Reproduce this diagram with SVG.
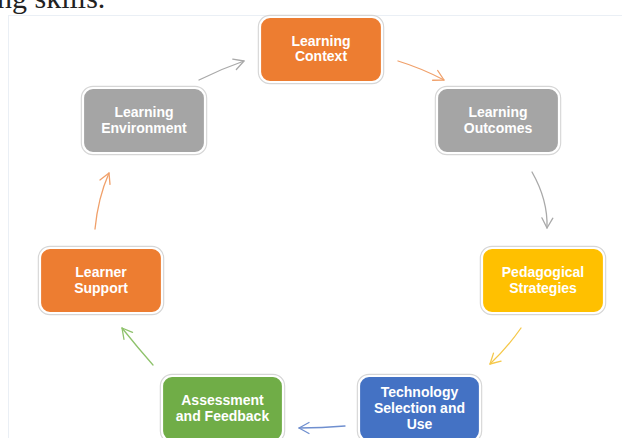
<svg xmlns="http://www.w3.org/2000/svg" width="622" height="438" viewBox="0 0 622 438">
<style>
.ring{fill:none;stroke:#d6d6d6;stroke-width:4.5}
.box{stroke:#ffffff;stroke-width:2.2}
.lbl{font-family:"Liberation Sans",Arial,sans-serif;font-weight:bold;font-size:14px;fill:#ffffff;text-anchor:middle}
.c{fill:none;stroke-width:1.3;stroke-linecap:round}
.head{fill:none;stroke-width:1.3;stroke-linecap:round;stroke-linejoin:round}
</style>
<defs>
<marker id="mGray" markerUnits="userSpaceOnUse" viewBox="-12 -7 14 14" refX="0" refY="0" markerWidth="14" markerHeight="14" orient="auto"><path class="head" d="M-10,-5.5 L0,0 L-10,5.5" stroke="#a9a9a9"/></marker>
<marker id="mOrange" markerUnits="userSpaceOnUse" viewBox="-12 -7 14 14" refX="0" refY="0" markerWidth="14" markerHeight="14" orient="auto"><path class="head" d="M-10,-5.5 L0,0 L-10,5.5" stroke="#f0a06a"/></marker>
<marker id="mYellow" markerUnits="userSpaceOnUse" viewBox="-12 -7 14 14" refX="0" refY="0" markerWidth="14" markerHeight="14" orient="auto"><path class="head" d="M-10,-5.5 L0,0 L-10,5.5" stroke="#f5c84a"/></marker>
<marker id="mBlue" markerUnits="userSpaceOnUse" viewBox="-12 -7 14 14" refX="0" refY="0" markerWidth="14" markerHeight="14" orient="auto"><path class="head" d="M-10,-5.5 L0,0 L-10,5.5" stroke="#6f8fcf"/></marker>
<marker id="mGreen" markerUnits="userSpaceOnUse" viewBox="-12 -7 14 14" refX="0" refY="0" markerWidth="14" markerHeight="14" orient="auto"><path class="head" d="M-10,-5.5 L0,0 L-10,5.5" stroke="#8ec26b"/></marker>
</defs>
<rect width="622" height="438" fill="#ffffff"/>
<text x="-3" y="8" font-family="'Liberation Serif','DejaVu Serif',serif" font-size="30" fill="#222222">ng skills.</text>
<rect x="8.5" y="15.5" width="620" height="430" fill="none" stroke="#eaeff5" stroke-width="1"/>

<g id="connectors">
<path class="c" d="M199,80 Q221,69 244,61" stroke="#a9a9a9" marker-end="url(#mGray)"/>
<path class="c" d="M398,61 Q421,68 444,80" stroke="#f0a06a" marker-end="url(#mOrange)"/>
<path class="c" d="M532,172 Q548,200 547,228" stroke="#a9a9a9" marker-end="url(#mGray)"/>
<path class="c" d="M521,328 Q507,348 490,364" stroke="#f5c84a" marker-end="url(#mYellow)"/>
<path class="c" d="M345,426 Q322,428 299,428" stroke="#6f8fcf" marker-end="url(#mBlue)"/>
<path class="c" d="M153,365 Q138,348 122,328" stroke="#8ec26b" marker-end="url(#mGreen)"/>
<path class="c" d="M95,229 Q98,198 109,173" stroke="#f0a06a" marker-end="url(#mOrange)"/>
</g>

<g id="learning-context">
<rect class="ring" x="260" y="17" width="122" height="65" rx="10"/>
<rect class="box" x="260" y="17" width="122" height="65" rx="10" fill="#ED7D31"/>
<text class="lbl" x="321" y="45.5">Learning</text>
<text class="lbl" x="321" y="61">Context</text>
</g>

<g id="learning-outcomes">
<rect class="ring" x="437" y="88" width="122" height="65" rx="10"/>
<rect class="box" x="437" y="88" width="122" height="65" rx="10" fill="#A5A5A5"/>
<text class="lbl" x="498" y="117">Learning</text>
<text class="lbl" x="498" y="132.5">Outcomes</text>
</g>

<g id="learning-environment">
<rect class="ring" x="83" y="88" width="122" height="65" rx="10"/>
<rect class="box" x="83" y="88" width="122" height="65" rx="10" fill="#A5A5A5"/>
<text class="lbl" x="144" y="117">Learning</text>
<text class="lbl" x="144" y="132.5">Environment</text>
</g>

<g id="pedagogical-strategies">
<rect class="ring" x="482" y="248" width="122" height="65" rx="10"/>
<rect class="box" x="482" y="248" width="122" height="65" rx="10" fill="#FFC000"/>
<text class="lbl" x="543" y="277">Pedagogical</text>
<text class="lbl" x="543" y="292.5">Strategies</text>
</g>

<g id="learner-support">
<rect class="ring" x="40" y="248" width="122" height="65" rx="10"/>
<rect class="box" x="40" y="248" width="122" height="65" rx="10" fill="#ED7D31"/>
<text class="lbl" x="101" y="277">Learner</text>
<text class="lbl" x="101" y="292.5">Support</text>
</g>

<g id="technology-selection">
<rect class="ring" x="359" y="376" width="121" height="65" rx="10"/>
<rect class="box" x="359" y="376" width="121" height="65" rx="10" fill="#4472C4"/>
<text class="lbl" x="419.5" y="397">Technology</text>
<text class="lbl" x="419.5" y="413">Selection and</text>
<text class="lbl" x="419.5" y="428.5">Use</text>
</g>

<g id="assessment-feedback">
<rect class="ring" x="162" y="376" width="121" height="65" rx="10"/>
<rect class="box" x="162" y="376" width="121" height="65" rx="10" fill="#70AD47"/>
<text class="lbl" x="222.5" y="405">Assessment</text>
<text class="lbl" x="222.5" y="421">and Feedback</text>
</g>
</svg>
